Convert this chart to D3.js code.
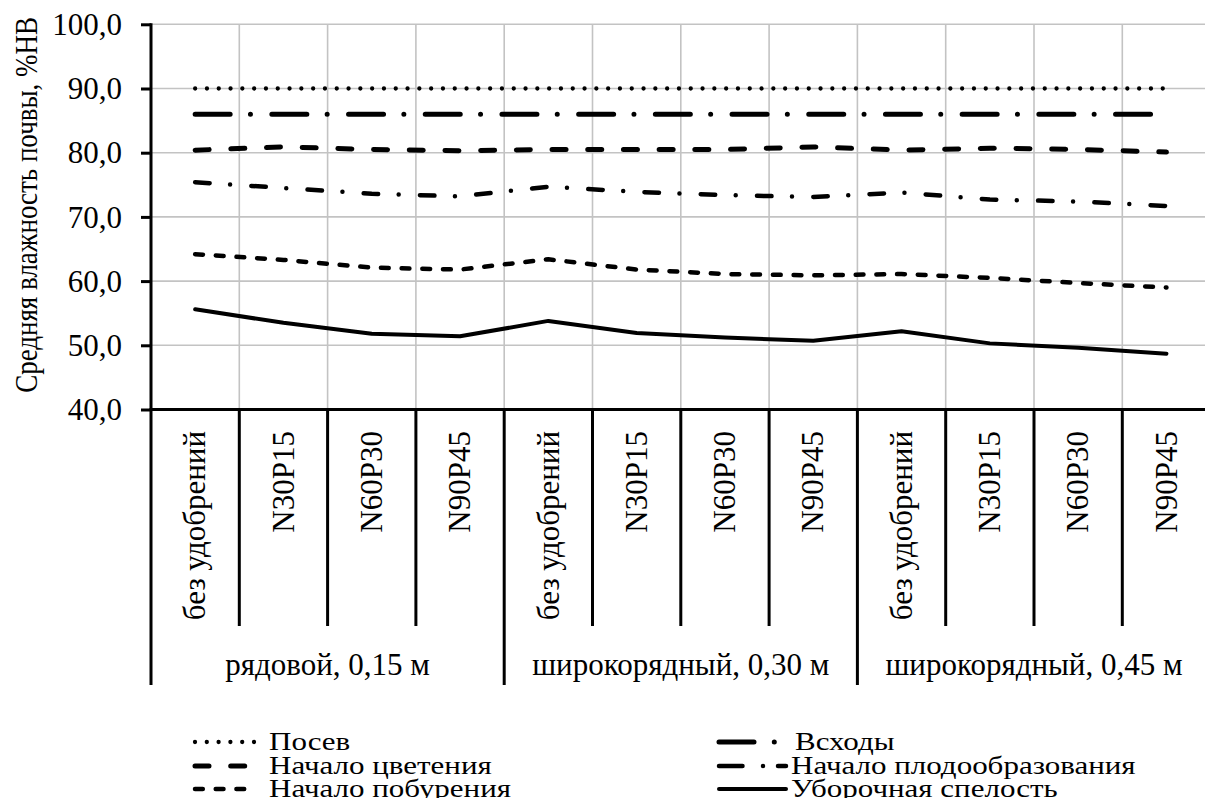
<!DOCTYPE html>
<html>
<head>
<meta charset="utf-8">
<script src="https://cdn.jsdelivr.net/npm/d3@7"></script>
<style>
  html, body { margin: 0; padding: 0; background: #fff; }
  svg { display: block; }
</style>
</head>
<body>
<svg id="chart" width="1205" height="798"></svg>
<script>
// ---- data ----
const categories = ["без удобрений", "N30P15", "N60P30", "N90P45",
                    "без удобрений", "N30P15", "N60P30", "N90P45",
                    "без удобрений", "N30P15", "N60P30", "N90P45"];
const groups = ["рядовой, 0,15 м", "широкорядный, 0,30 м", "широкорядный, 0,45 м"];
const yTicks = [40, 50, 60, 70, 80, 90, 100];
const seriesNames = ["Посев", "Всходы", "Начало цветения", "Начало плодообразования", "Начало побурения", "Уборочная спелость"];
const posev       = [90.0, 90.0, 90.0, 90.0, 90.0, 90.0, 90.0, 90.0, 90.0, 90.0, 90.0, 90.0];
const vskhody     = [86.0, 86.0, 86.0, 86.0, 86.0, 86.0, 86.0, 86.0, 86.0, 86.0, 86.0, 86.0];
const tsvetenie   = [80.4, 80.9, 80.5, 80.3, 80.5, 80.5, 80.5, 80.9, 80.4, 80.7, 80.5, 80.1];
const plodoobr    = [75.4, 74.5, 73.6, 73.2, 74.7, 73.9, 73.4, 73.1, 73.8, 72.7, 72.4, 71.7];
const pobur       = [64.2, 63.3, 62.1, 61.8, 63.4, 61.8, 61.1, 60.9, 61.1, 60.5, 59.7, 59.0];
const uborochnaya = [55.6, 53.5, 51.8, 51.4, 53.8, 51.9, 51.2, 50.7, 52.2, 50.3, 49.6, 48.7];
const seriesValues = [posev, vskhody, tsvetenie, plodoobr, pobur, uborochnaya];
const yTitle = "Средняя влажность почвы, %НВ";

// ---- styles ----
const styles = [
  { w: 4.3, dash: "0,11.8" },
  { w: 5,   dash: "35,20.3,0,21.4" },
  { w: 5,   dash: "14,21.7" },
  { w: 4.5, dash: "14.5,20.5,0,21.3", legendDash: "23.5,20.5,0,15" },
  { w: 4.5, dash: "7.8,12.9" },
  { w: 4,   dash: null }
];

const FONT = "'Liberation Serif'";
const FS = 31;
const svg = d3.select("#chart");
const pLeft = 151, pTop = 24.3, pBottom = 409.5;
const catW = 88.3;
const pRight = pLeft + catW * categories.length;

const idx = d3.range(categories.length);
const x = d3.scaleBand().domain(idx).range([pLeft, pRight]).paddingInner(0).paddingOuter(0);
const y = d3.scaleLinear().domain([40, 100]).range([pBottom, pTop]);

function txt(sel, fs) {
  return sel.attr("font-family", FONT).attr("font-size", fs || FS).attr("fill", "#000");
}

// gridlines
const grid = svg.append("g");
grid.selectAll("line.h").data(yTicks.filter(t => t > 40)).join("line").attr("class", "h")
  .attr("x1", pLeft).attr("x2", pRight)
  .attr("y1", d => y(d)).attr("y2", d => y(d))
  .attr("stroke", "#c3c3c3").attr("stroke-width", 1.6);
grid.selectAll("line.v").data(idx.slice(1)).join("line").attr("class", "v")
  .attr("x1", d => x(d)).attr("x2", d => x(d))
  .attr("y1", pTop).attr("y2", pBottom)
  .attr("stroke", "#c3c3c3").attr("stroke-width", 1.6);

// y axis
const yAxis = d3.axisLeft(y).tickValues(yTicks).tickSize(10).tickPadding(0)
  .tickFormat(d => d3.format(".1f")(d).replace(".", ","));
const gy = svg.append("g").attr("transform", `translate(${pLeft},0)`).call(yAxis);
gy.attr("font-family", FONT).attr("font-size", FS);
gy.select(".domain").attr("stroke", "#000").attr("stroke-width", 3)
  .attr("d", `M0,${pTop - 1}V${pBottom + 1.5}`);
gy.selectAll(".tick line").attr("stroke", "#000").attr("stroke-width", 3);
gy.selectAll(".tick text").remove();
txt(gy.selectAll(".tick").append("text"))
  .attr("text-anchor", "end").attr("dy", "0.33em")
  .attr("x", -29)
  .text(d => d3.format(".1f")(d).replace(".", ","));

// y title
txt(svg.append("text"), 27)
  .attr("transform", `translate(27,${(pTop + pBottom) / 2 - 12}) scale(1.14,1) rotate(-90)`)
  .attr("text-anchor", "middle").attr("dy", "0.33em")
  .text(yTitle);

// x axis line
svg.append("line").attr("x1", pLeft - 1.5).attr("x2", pRight).attr("y1", pBottom).attr("y2", pBottom)
  .attr("stroke", "#000").attr("stroke-width", 3);

// category separators below axis
const sepInner = 626, sepOuter = 685;
svg.append("g").selectAll("line").data(d3.range(categories.length + 1)).join("line")
  .attr("x1", d => pLeft + d * catW).attr("x2", d => pLeft + d * catW)
  .attr("y1", pBottom).attr("y2", d => d % 4 === 0 ? sepOuter : sepInner)
  .attr("stroke", "#000").attr("stroke-width", 3);

// category labels
txt(svg.append("g").selectAll("text").data(idx).join("text"))
  .attr("transform", d => `translate(${x(d) + x.bandwidth() / 2},431) rotate(-90)`)
  .attr("text-anchor", "end").attr("dy", "0.33em")
  .text(d => categories[d]);

// group labels
txt(svg.append("g").selectAll("text").data(groups).join("text"))
  .attr("x", (d, i) => pLeft + (i * 4 + 2) * catW).attr("y", 665)
  .attr("text-anchor", "middle").attr("dy", "0.33em")
  .text(d => d);

// series lines
const line = d3.line().x((d, i) => x(i) + x.bandwidth() / 2).y(d => y(d));
svg.append("g").selectAll("path").data(seriesValues).join("path")
  .attr("d", d => line(d))
  .attr("fill", "none").attr("stroke", "#000")
  .attr("stroke-width", (d, i) => styles[i].w)
  .attr("stroke-linecap", "round").attr("stroke-linejoin", "round")
  .attr("stroke-dasharray", (d, i) => styles[i].dash);

// legend
const legCols = [{ x0: 195, x1: 257, tx: 269 }, { x0: 719, x1: 786, tx: 791 }];
const legRows = [742, 766, 789];
const leg = svg.append("g");
seriesNames.forEach((name, i) => {
  const c = legCols[i % 2], ry = legRows[Math.floor(i / 2)];
  const st = styles[i];
  leg.append("line").attr("x1", c.x0).attr("x2", i === 1 ? 776 : c.x1).attr("y1", ry).attr("y2", ry)
    .attr("stroke", "#000").attr("stroke-width", st.w).attr("stroke-linecap", "round")
    .attr("stroke-dasharray", st.legendDash || st.dash);
  txt(leg.append("text"))
    .attr("transform", `translate(${c.tx + (i === 1 ? 4 : 0)},${ry}) scale(1,0.8)`)
    .attr("dy", "0.33em").text(name);
});
</script>
</body>
</html>
